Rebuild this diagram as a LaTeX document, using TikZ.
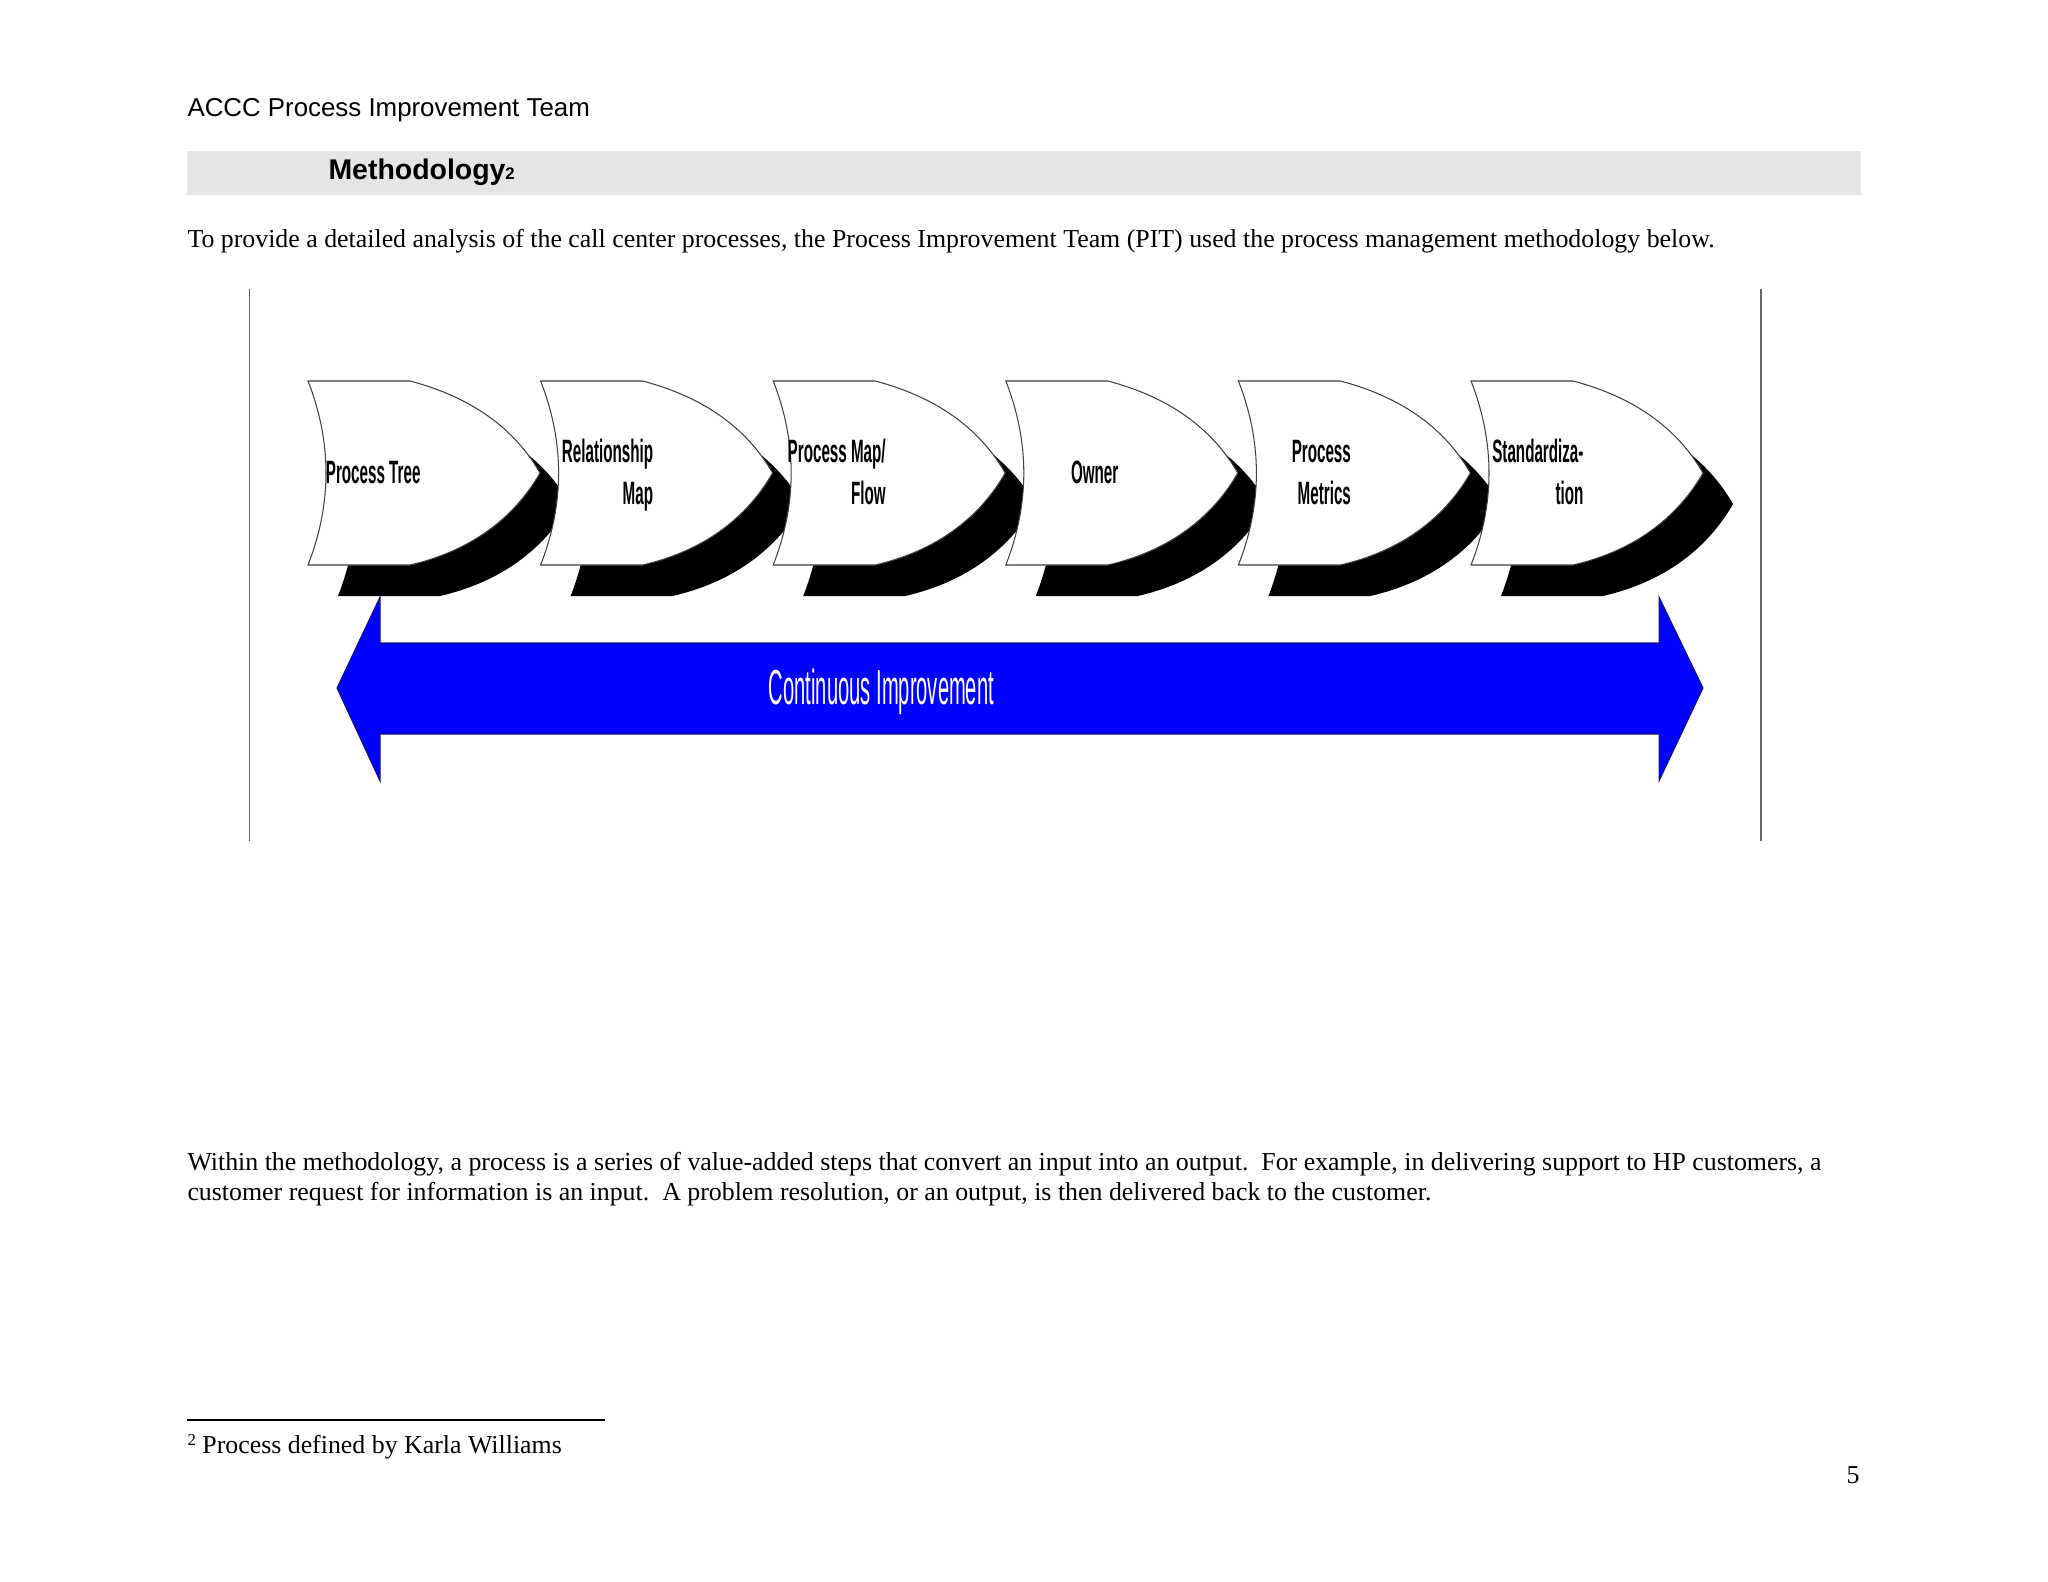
\documentclass[tikz,border=0pt]{standalone}
\usepackage{fontspec}
\setmainfont{Liberation Serif}
\setsansfont{Liberation Sans}
\newfontfamily\hdfont{Liberation Sans}
\newfontfamily\chevfont[FakeStretch=0.47]{Liberation Sans}
\newfontfamily\cifont[FakeStretch=0.41]{Liberation Sans}
\definecolor{barg}{RGB}{229,229,229}
\definecolor{arrowblue}{RGB}{0,0,255}
\definecolor{arrowedge}{RGB}{20,20,120}
\tikzset{
  chevpath/.style={insert path={(0,0) -- (102,0) .. controls (162.7,16) and (206,46.7) .. (232,92)
     .. controls (206,137.3) and (162.7,170) .. (102,184) -- (0,184)
     .. controls (24,122.7) and (24,61.3) .. (0,0) -- cycle}},
  chevline/.style={draw=black!75, line width=0.4pt, fill=white},
  chevshadow/.style={fill=black},
  chevron/.pic={
    \fill[chevshadow, shift={(30,31)}, chevpath];
    \path[chevline, chevpath];
  },
  chevtext/.style={font=\chevfont\bfseries\fontsize{12.5}{16}\selectfont, align=right, anchor=base east, inner sep=0pt},
  bodytext/.style={font=\fontsize{10}{11.6}\selectfont, anchor=base west, inner sep=0pt, align=left},
  frameline/.style={draw=black!60, line width=0.5pt},
}
\begin{document}
\begin{tikzpicture}[x=0.386719pt, y=-0.386719pt]
\useasboundingbox (0,0) rectangle (2048,1582);
\fill[white] (0,0) rectangle (2048,1582);

% header
\node[anchor=base west, inner sep=0pt, font=\hdfont\fontsize{10}{12}\selectfont] (hdr) at (187,116.7) {ACCC Process Improvement Team};
\fill[barg] (187,151.5) rectangle (1861,195);
\node[anchor=base west, inner sep=0pt, font=\hdfont\bfseries\fontsize{11}{13}\selectfont] (meth) at (328,179.3) {Methodology{\fontsize{6.5}{7}\selectfont 2}};
\node[bodytext] (intro) at (187,248) {To provide a detailed analysis of the call center processes, the Process Improvement Team (PIT) used the process management methodology below.};

% frame lines
\coordinate (fl1) at (249.5,289);
\coordinate (fl2) at (249.5,841);
\coordinate (fr1) at (1761,289);
\coordinate (fr2) at (1761,841);
\draw[frameline] (fl1) -- (fl2);
\draw[frameline] (fr1) -- (fr2);

% chevrons
\foreach \i in {0,...,5}{
  \pic at ({308+232.6*\i},381) {chevron};
}
\node[chevtext] (t1) at ({308+113},483.3) {Process Tree};
\node[chevtext] (t2) at ({308+232.6+113},504) {Relationship\\Map};
\node[chevtext] (t3) at ({308+2*232.6+113},504) {Process Map/\\Flow};
\node[chevtext] (t4) at ({308+3*232.6+113},483.3) {Owner};
\node[chevtext] (t5) at ({308+4*232.6+113},504) {Process\\Metrics};
\node[chevtext] (t6) at ({308+5*232.6+113},504) {Standardiza-\\tion};

% continuous improvement arrow
\path[fill=arrowblue, draw=arrowedge, line width=0.4pt]
  (337,688) -- (380,597) -- (380,643) -- (1659,643) -- (1659,597) -- (1703,688)
  -- (1659,781) -- (1659,734) -- (380,734) -- (380,781) -- cycle;
\node[anchor=base, inner sep=0pt, text=white, font=\cifont\fontsize{19}{22}\selectfont] (ci) at (881.5,704) {Continuous Improvement};

% lower text
\node[bodytext] (para) at (187,1200.7) {Within the methodology, a process is a series of value-added steps that convert an input into an output.\ \ For example, in delivering support to HP customers, a\\customer request for information is an input.\ \ A problem resolution, or an output, is then delivered back to the customer.};

% footnote
\coordinate (fn1) at (187,1420);
\coordinate (fn2) at (605,1420);
\draw[line width=0.6pt] (fn1) -- (fn2);
\node[bodytext] (fn) at (187,1453) {\raisebox{0.6ex}{\fontsize{6.5}{7}\selectfont 2} Process defined by Karla Williams};
\node[anchor=base east, inner sep=0pt, font=\fontsize{10}{12}\selectfont] (pg) at (1860,1483) {5};
\end{tikzpicture}
\end{document}
